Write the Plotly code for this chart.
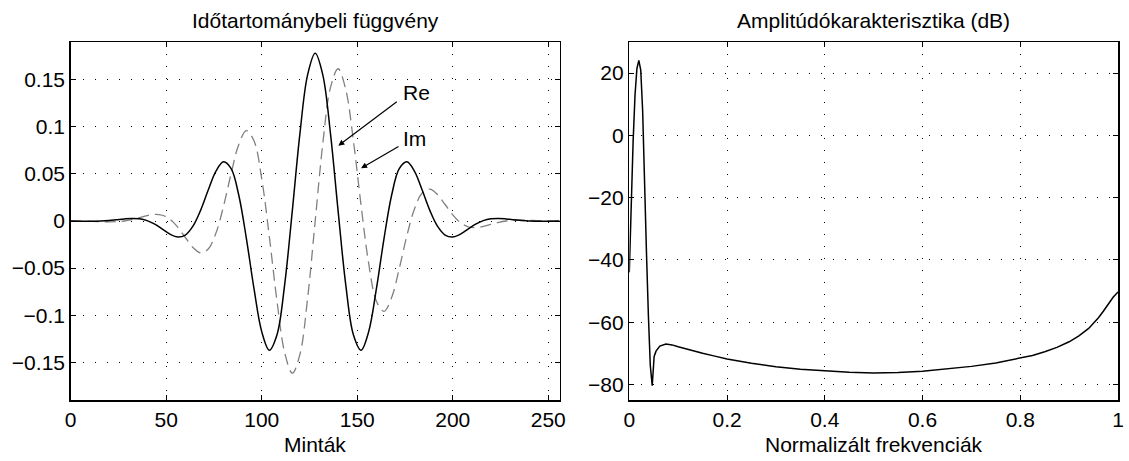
import plotly.graph_objects as go

# ---- data ----
samples = list(range(0, 257, 4))
re_vals = [-0.0001, -0.0002, -0.0003, -0.0002, 0.0000, 0.0006, 0.0014, 0.0022, 0.0027, 0.0023, 0.0004,
           -0.0034, -0.0087, -0.0140, -0.0170, -0.0149, -0.0055, 0.0113, 0.0328, 0.0527, 0.0628, 0.0555,
           0.0273, -0.0189, -0.0724, -0.1174, -0.1372, -0.1208, -0.0677, 0.0105, 0.0927, 0.1549, 0.1780,
           0.1549, 0.0927, 0.0105, -0.0677, -0.1208, -0.1372, -0.1174, -0.0724, -0.0189, 0.0273, 0.0555,
           0.0628, 0.0527, 0.0328, 0.0113, -0.0055, -0.0149, -0.0170, -0.0140, -0.0087, -0.0034, 0.0004,
           0.0023, 0.0027, 0.0022, 0.0014, 0.0006, 0.0000, -0.0002, -0.0003, -0.0002, -0.0001]
im_vals = [0.0001, 0.0000, -0.0002, -0.0004, -0.0007, -0.0009, -0.0007, 0.0000, 0.0015, 0.0036, 0.0058,
           0.0071, 0.0061, 0.0017, -0.0065, -0.0175, -0.0281, -0.0338, -0.0298, -0.0131, 0.0156, 0.0505,
           0.0813, 0.0960, 0.0848, 0.0450, -0.0168, -0.0851, -0.1395, -0.1616, -0.1416, -0.0825, 0.0,
           0.0825, 0.1416, 0.1616, 0.1395, 0.0851, 0.0168, -0.0450, -0.0848, -0.0960, -0.0813, -0.0505,
           -0.0156, 0.0131, 0.0298, 0.0338, 0.0281, 0.0175, 0.0065, -0.0017, -0.0061, -0.0071, -0.0058,
           -0.0036, -0.0015, 0.0000, 0.0007, 0.0009, 0.0007, 0.0004, 0.0002, 0.0000, -0.0001]

freq = [0, 0.0039, 0.0078, 0.0117, 0.0156, 0.0195, 0.0234, 0.0273, 0.0313, 0.0352, 0.0391, 0.0430,
        0.0469, 0.0508, 0.0547, 0.0586, 0.0625, 0.075, 0.0875, 0.1, 0.125, 0.15, 0.175, 0.2, 0.25, 0.3,
        0.35, 0.4, 0.45, 0.5, 0.55, 0.6, 0.65, 0.7, 0.75, 0.8, 0.825, 0.85, 0.875, 0.9, 0.92, 0.94,
        0.96, 0.97, 0.98, 0.99, 1.0]
amp_db = [-44, -22, -2, 13, 21.5, 24.1, 21, 8, -18, -38, -58, -74,
          -80.4, -71, -69.3, -68.3, -67.7, -67.0, -67.3, -67.9, -69.0, -70.0, -70.9, -71.8, -73.2, -74.3,
          -75.1, -75.7, -76.1, -76.3, -76.2, -75.8, -75.1, -74.2, -73.1, -71.6, -70.7, -69.5, -68.1, -66.3,
          -64.4, -62.0, -58.6, -56.5, -54.3, -52.0, -50.3]

left_xticks = [0, 50, 100, 150, 200, 250]
left_yticks = [-0.15, -0.1, -0.05, 0, 0.05, 0.1, 0.15]
left_yticktext = ["\u22120.15", "\u22120.1", "\u22120.05", "0", "0.05", "0.1", "0.15"]
right_xticks = [0, 0.2, 0.4, 0.6, 0.8, 1]
right_xticktext = ["0", "0.2", "0.4", "0.6", "0.8", "1"]
right_yticks = [-80, -60, -40, -20, 0, 20]
right_yticktext = ["\u221280", "\u221260", "\u221240", "\u221220", "0", "20"]

titles = ["Időtartománybeli függvény", "Amplitúdókarakterisztika (dB)"]
xtitles = ["Minták", "Normalizált frekvenciák"]

# ---- layout geometry (pixels of the 1129x461 page) ----
W, H = 1129, 461
def px_x(p): return p / W
def px_y(p): return 1 - p / H

left_dom = [px_x(70.7), px_x(559.7)]
right_dom = [px_x(629.3), px_x(1118)]
y_dom = [px_y(400), px_y(42)]

FONT = "Liberation Sans, Arial, sans-serif"
FS = 21

fig = go.Figure()
fig.add_trace(go.Scatter(x=samples, y=im_vals, mode="lines", line=dict(color="rgb(128,128,128)", width=1.3, dash="11px,6px", shape="spline"),
                         xaxis="x", yaxis="y", showlegend=False))
fig.add_trace(go.Scatter(x=samples, y=re_vals, mode="lines", line=dict(color="black", width=1.5, shape="spline"),
                         xaxis="x", yaxis="y", showlegend=False))
fig.add_trace(go.Scatter(x=freq, y=amp_db, mode="lines", line=dict(color="black", width=1.5),
                         xaxis="x2", yaxis="y2", showlegend=False))

axis_common = dict(showline=True, linecolor="black", linewidth=1.5, mirror="ticks", ticks="inside",
                   ticklen=5, tickcolor="black", tickwidth=1, showgrid=True, gridcolor="black",
                   gridwidth=1, griddash="1px,11px", zeroline=False, automargin=False,
                   tickfont=dict(family=FONT, size=FS, color="black"))

fig.update_layout(
    width=W, height=H, margin=dict(l=0, r=0, t=0, b=0),
    paper_bgcolor="white", plot_bgcolor="white",
    font=dict(family=FONT, size=FS, color="black"),
    xaxis=dict(domain=left_dom, range=[0, 256], tickvals=left_xticks, anchor="y", **axis_common),
    yaxis=dict(domain=y_dom, range=[-0.19, 0.19], tickvals=left_yticks, ticktext=left_yticktext, anchor="x", **axis_common),
    xaxis2=dict(domain=right_dom, range=[0, 1], tickvals=right_xticks, ticktext=right_xticktext, anchor="y2", **axis_common),
    yaxis2=dict(domain=y_dom, range=[-85, 30], tickvals=right_yticks, ticktext=right_yticktext, anchor="x2", **axis_common),
)

annotations = []
centers = [(left_dom[0] + left_dom[1]) / 2, (right_dom[0] + right_dom[1]) / 2]
for c, t in zip(centers, titles):
    annotations.append(dict(text=t, x=c, y=px_y(20), xref="paper", yref="paper", showarrow=False,
                            xanchor="center", yanchor="middle", font=dict(family=FONT, size=FS, color="black")))
for c, t in zip(centers, xtitles):
    annotations.append(dict(text=t, x=c, y=px_y(444), xref="paper", yref="paper", showarrow=False,
                            xanchor="center", yanchor="middle", font=dict(family=FONT, size=FS, color="black")))

# Re / Im labels with arrows
annotations.append(dict(text="", x=140.1, y=0.0799, ax=171.5, ay=0.1277, xref="x", yref="y", axref="x", ayref="y",
                        showarrow=True, arrowhead=2, arrowsize=1, arrowwidth=1.2, arrowcolor="black"))
annotations.append(dict(text="", x=152.0, y=0.056, ax=172.4, ay=0.080, xref="x", yref="y", axref="x", ayref="y",
                        showarrow=True, arrowhead=2, arrowsize=1, arrowwidth=1.2, arrowcolor="black"))
annotations.append(dict(text="Re", x=173, y=0.136, xref="x", yref="y", showarrow=False, xanchor="left", yanchor="middle",
                        font=dict(family=FONT, size=FS, color="black")))
annotations.append(dict(text="Im", x=173, y=0.088, xref="x", yref="y", showarrow=False, xanchor="left", yanchor="middle",
                        font=dict(family=FONT, size=FS, color="black")))
fig.update_layout(annotations=annotations)

fig.write_html("out.html", config={"displayModeBar": False, "staticPlot": True},
               post_script="document.body.style.margin='0';document.body.style.overflow='hidden';")
